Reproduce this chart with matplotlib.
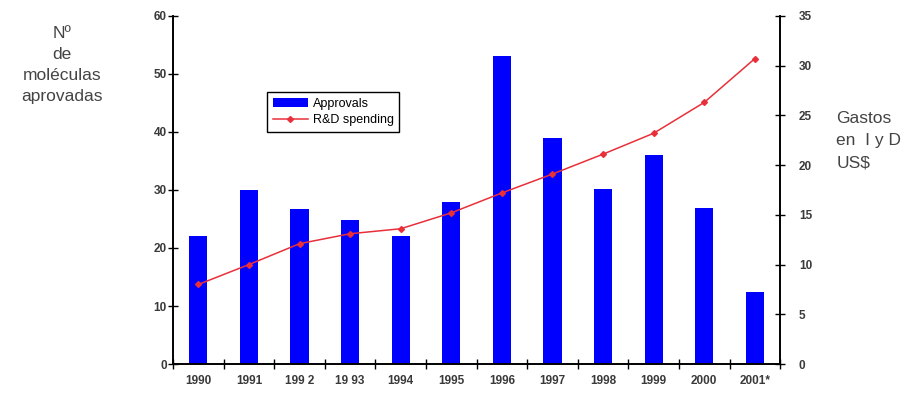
import numpy as np
import matplotlib.pyplot as plt

plt.rcParams['font.family'] = ['Liberation Sans', 'DejaVu Sans']

years = ['1990', '1991', '199 2', '19 93', '1994', '1995', '1996',
         '1997', '1998', '1999', '2000', '2001*']
approvals = [22, 30, 26.7, 24.8, 22, 28, 53, 39, 30.2, 36, 26.9, 12.4]
rd_spending = [8.0, 10.0, 12.1, 13.1, 13.6, 15.2, 17.2, 19.1, 21.1, 23.2, 26.3, 30.7]

label_color = '#3a3a3a'

fig = plt.figure(figsize=(9.17, 3.97), dpi=100)
ax1 = fig.add_axes([0.1887, 0.083, 0.662, 0.877])
ax2 = ax1.twinx()

x = np.arange(len(years))
bars = ax1.bar(x, approvals, width=0.36, color='#0000ff', label='Approvals', zorder=2)
line, = ax2.plot(x, rd_spending, color='#e8303a', lw=1.1, marker='D', ms=3,
                 label='R&D spending', zorder=3)

ax1.set_xlim(-0.5, len(years) - 0.5)
ax1.set_ylim(0, 60)
ax2.set_ylim(0, 35)
ax1.set_yticks(range(0, 61, 10))
ax2.set_yticks(range(0, 36, 5))

# category labels at centers, cross ticks on the boundaries
ax1.set_xticks(x)
ax1.set_xticklabels(years, fontsize=8.5, fontweight='bold', color=label_color)
ax1.tick_params(axis='x', which='major', length=0, pad=8)
ax1.set_xticks(np.arange(-0.5, len(years)), minor=True)
ax1.tick_params(axis='x', which='minor', direction='inout', length=7, width=1)

ax1.tick_params(axis='y', direction='inout', length=7, width=1, labelsize=8.5,
                labelcolor=label_color, pad=1)
for t in ax1.get_yticklabels():
    t.set_fontweight('bold')
ax2.tick_params(axis='y', direction='inout', length=7, width=1, labelsize=8.5,
                labelcolor=label_color, pad=10)
for t in ax2.get_yticklabels():
    t.set_fontweight('bold')

for ax in (ax1, ax2):
    ax.spines['top'].set_visible(False)
    for s in ('left', 'right', 'bottom'):
        ax.spines[s].set_linewidth(1.2)

leg = ax1.legend([bars, line], ['Approvals', 'R&D spending'],
                 loc='upper left', bbox_to_anchor=(0.155, 0.78),
                 fontsize=9, fancybox=False, framealpha=1, edgecolor='black',
                 handlelength=2.8, borderpad=0.45, labelspacing=0.35,
                 handletextpad=0.4, borderaxespad=0)
leg.get_frame().set_linewidth(1.0)

fig.text(0.068, 0.935, 'Nº\nde\nmoléculas\naprovadas', ha='center', va='top',
         fontsize=12.5, color='#444444', linespacing=1.5)
fig.text(0.912, 0.72, 'Gastos\nen  I y D\nUS$', ha='left', va='top',
         fontsize=12.5, color='#444444', linespacing=1.6)

fig.savefig('out.png', dpi=100)
